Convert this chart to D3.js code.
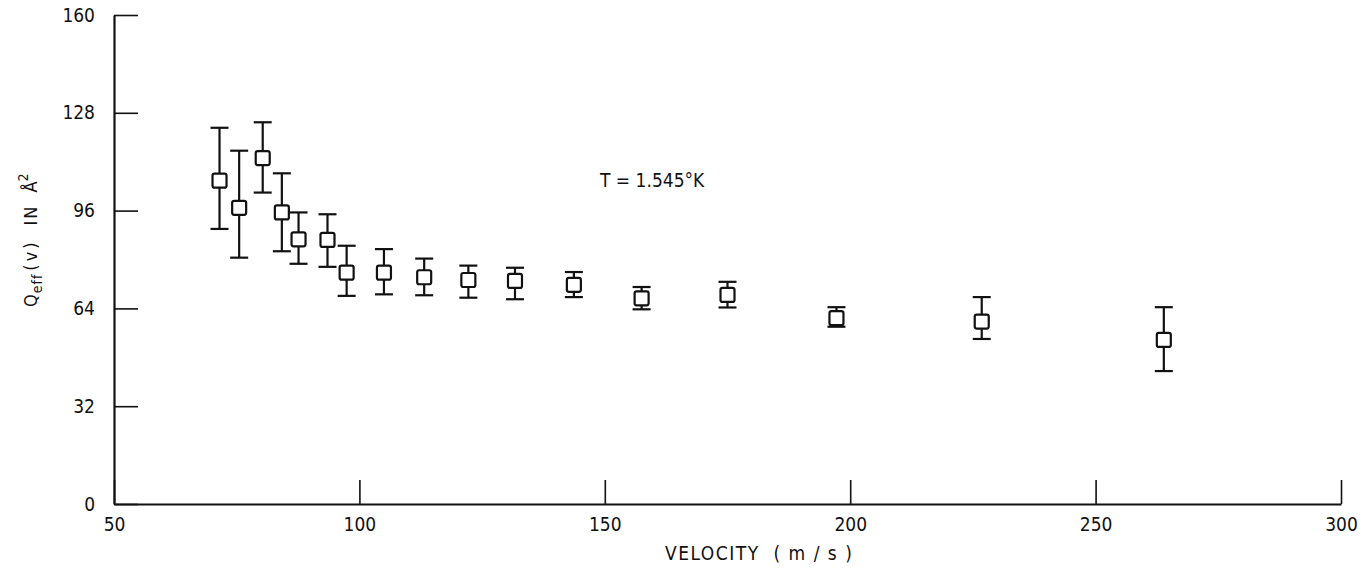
<!DOCTYPE html>
<html>
<head>
<meta charset="utf-8">
<script src="https://cdn.jsdelivr.net/npm/d3@7"></script>
<style>
  body { margin: 0; background: #fff; }
  svg text { font-family: "DejaVu Sans Condensed", "DejaVu Sans", sans-serif; fill: #111; }
</style>
</head>
<body>
<svg id="chart" width="1363" height="570"></svg>
<script>
// velocity (m/s), Q_eff and the ends of each error bar
var velocity = [71.5, 75.5, 80.3, 84.2, 87.6, 93.5, 97.4, 105.0, 113.2, 122.2, 131.7, 143.7, 157.5, 175.0, 197.2, 226.8, 263.9];
var qeff     = [105.8, 96.9, 113.2, 95.4, 86.6, 86.4, 75.7, 75.7, 74.2, 73.3, 73.0, 71.7, 67.3, 68.4, 60.8, 59.7, 53.7];
var qHigh    = [123.1, 115.6, 124.9, 108.2, 95.4, 94.8, 84.5, 83.4, 80.3, 78.0, 77.3, 75.9, 71.0, 72.7, 64.4, 67.7, 64.4];
var qLow     = [90.0, 80.6, 101.9, 82.7, 78.6, 77.6, 68.1, 68.6, 68.3, 67.5, 67.0, 67.7, 63.7, 64.3, 58.0, 54.0, 43.5];

var xTicks = [50, 100, 150, 200, 250, 300];
var yTicks = [0, 32, 64, 96, 128, 160];

var svg = d3.select("#chart");

var x = d3.scaleLinear().domain([50, 300]).range([114, 1341]);
var y = d3.scaleLinear().domain([0, 160]).range([504, 15]);

var points = velocity.map(function(v, i) {
    return {v: v, q: qeff[i], hi: qHigh[i], lo: qLow[i]};
});

// axes - ticks point inward, like the original drawing
var xAxis = svg.append("g")
    .attr("transform", "translate(0," + y(0) + ")")
    .call(d3.axisBottom(x).tickValues(xTicks).tickSize(-24).tickSizeOuter(0).tickPadding(14));

var yAxis = svg.append("g")
    .attr("transform", "translate(" + x(50) + ",0)")
    .call(d3.axisLeft(y).tickValues(yTicks).tickSize(-24).tickSizeOuter(0).tickPadding(19));

[xAxis, yAxis].forEach(function(g) {
    g.select(".domain").attr("stroke", "#111").attr("stroke-width", 2.2);
    g.selectAll(".tick line").attr("stroke", "#111").attr("stroke-width", 1.6);
    g.selectAll(".tick text").style("font-size", "19px").attr("fill", "#111");
});

// error bars
var bars = svg.append("g").attr("class", "errorbars")
    .attr("stroke", "#111").attr("stroke-width", 2.2).attr("fill", "none");

bars.selectAll("line.stem")
    .data(points)
    .enter().append("line")
    .attr("class", "stem")
    .attr("x1", function(d) { return x(d.v); })
    .attr("x2", function(d) { return x(d.v); })
    .attr("y1", function(d) { return y(d.hi); })
    .attr("y2", function(d) { return y(d.lo); });

var capW = 9;
["hi", "lo"].forEach(function(k) {
    bars.selectAll("line.cap-" + k)
        .data(points)
        .enter().append("line")
        .attr("class", "cap-" + k)
        .attr("x1", function(d) { return x(d.v) - capW; })
        .attr("x2", function(d) { return x(d.v) + capW; })
        .attr("y1", function(d) { return y(d[k]); })
        .attr("y2", function(d) { return y(d[k]); });
});

// square markers
var box = 14;
svg.append("g").selectAll("rect")
    .data(points)
    .enter().append("rect")
    .attr("x", function(d) { return x(d.v) - box / 2; })
    .attr("y", function(d) { return y(d.q) - box / 2; })
    .attr("width", box)
    .attr("height", box)
    .attr("rx", 2)
    .attr("fill", "#fff")
    .attr("stroke", "#111")
    .attr("stroke-width", 2.2);

// annotation
svg.append("text")
    .attr("x", 600)
    .attr("y", 187)
    .style("font-size", "19px")
    .text("T = 1.545\u00B0K");

// x label
svg.append("text")
    .attr("x", 665)
    .attr("y", 560)
    .style("font-size", "19px")
    .style("letter-spacing", "1.5px")
    .style("white-space", "pre")
    .text("VELOCITY  ( m / s )");

// y label, rotated
var yl = svg.append("text")
    .attr("transform", "translate(37,307) rotate(-90)")
    .style("font-size", "18px")
    .style("white-space", "pre");
yl.append("tspan").text("Q");
yl.append("tspan").attr("dy", 5).attr("dx", 1).style("font-size", "14px").style("letter-spacing", "1px").text("eff");
yl.append("tspan").attr("dy", -5).attr("dx", 3).style("letter-spacing", "3px").text("(v)");
yl.append("tspan").attr("dx", 14).style("letter-spacing", "2px").text("IN");
yl.append("tspan").attr("dx", 12).text("\u00C5");
yl.append("tspan").attr("dy", -9).style("font-size", "14px").text("2");
</script>
</body>
</html>
